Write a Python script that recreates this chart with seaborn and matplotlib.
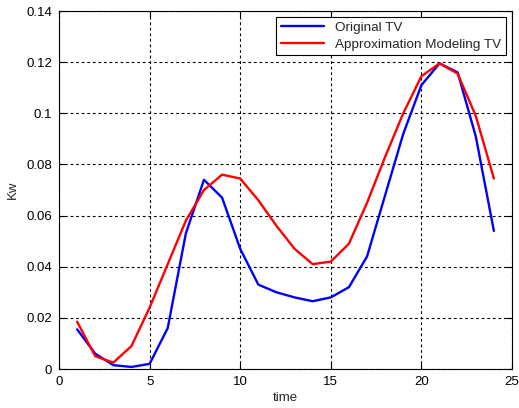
import matplotlib
matplotlib.use("Agg")
import matplotlib.pyplot as plt
import seaborn as sns
import pandas as pd

time = list(range(1, 25))
original_tv = [0.0155, 0.006, 0.0015, 0.0008, 0.002, 0.016, 0.053, 0.074, 0.067, 0.047, 0.033, 0.030,
               0.028, 0.0265, 0.028, 0.032, 0.044, 0.068, 0.092, 0.111, 0.1195, 0.116, 0.091, 0.054]
approx_tv = [0.0185, 0.005, 0.0025, 0.009, 0.024, 0.041, 0.058, 0.070, 0.076, 0.0745, 0.066, 0.056,
             0.047, 0.041, 0.042, 0.049, 0.065, 0.083, 0.100, 0.1145, 0.1195, 0.1155, 0.099, 0.0745]
series_names = ["Original TV", "Approximation Modeling TV"]
colors = ["#0000ff", "#ff0000"]

df = pd.concat([
    pd.DataFrame({"time": time, "Kw": original_tv, "series": series_names[0]}),
    pd.DataFrame({"time": time, "Kw": approx_tv, "series": series_names[1]}),
])

sns.set_style("white")
plt.rcParams['font.family'] = ['Liberation Sans', 'DejaVu Sans']

fig = plt.figure(figsize=(5.19, 4.08), dpi=100)
ax = fig.add_axes([59 / 519, 39 / 408, 453 / 519, 358 / 408])
sns.lineplot(data=df, x="time", y="Kw", hue="series", palette=colors, ax=ax, linewidth=1.7)

ax.set_xlim(0, 25)
ax.set_ylim(0, 0.14)
ax.set_xticks([0, 5, 10, 15, 20, 25])
ax.set_yticks([0, 0.02, 0.04, 0.06, 0.08, 0.1, 0.12, 0.14])
ax.set_yticklabels(["0", "0.02", "0.04", "0.06", "0.08", "0.1", "0.12", "0.14"])
ax.grid(True, color="black", linestyle=(0, (2.5, 2.5)), linewidth=0.8)
ax.tick_params(direction="in", length=4, labelsize=9.5, colors="black", pad=5,
               bottom=True, left=True, top=True, right=True, labeltop=False, labelright=False)
for s in ax.spines.values():
    s.set_color("black")
    s.set_linewidth(0.8)
ax.set_xlabel("time", fontsize=9.5, labelpad=3)
ax.set_ylabel("Kw", fontsize=9.5, labelpad=5)
leg = ax.legend(loc="upper right", fontsize=9.7, frameon=True, fancybox=False, edgecolor="black",
                borderaxespad=0.45, handlelength=3.2, borderpad=0.35, labelspacing=0.3)
leg.get_frame().set_linewidth(0.8)
leg.get_frame().set_alpha(1)

fig.savefig("out.png", dpi=100)
